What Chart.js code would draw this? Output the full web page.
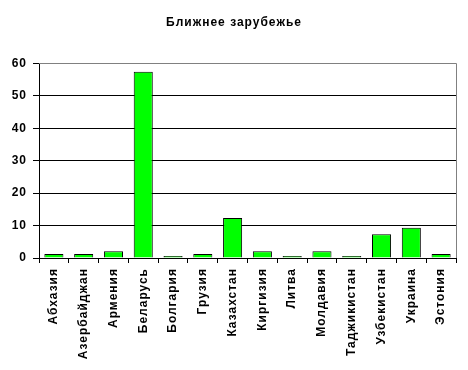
<!DOCTYPE html>
<html>
<head>
<meta charset="utf-8">
<script src="https://cdn.jsdelivr.net/npm/chart.js@4"></script>
<style>
    html, body { margin: 0; padding: 0; background: #fff; }
    #wrap { width: 468px; height: 370px; }
</style>
</head>
<body>
<div id="wrap"><canvas id="barChart" width="468" height="370"></canvas></div>
<script>
// data
var countries = ["Абхазия", "Азербайджан", "Армения", "Беларусь", "Болгария", "Грузия",
    "Казахстан", "Киргизия", "Литва", "Молдавия", "Таджикистан", "Узбекистан", "Украина", "Эстония"];
var shares = [1.2, 1.2, 2.1, 57.4, 0.6, 1.2, 12.3, 2.1, 0.6, 2.1, 0.6, 7.3, 9.3, 1.2];
var yTicks = [0, 10, 20, 30, 40, 50, 60];
var chartTitle = "Ближнее зарубежье";

var fontFamily = "'Liberation Sans', Arial, sans-serif";

// old-style spaced lettering, and gray frame on top and right of plot area
var frameLines = {
    id: 'frameLines',
    beforeDraw: function (chart) {
        chart.ctx.letterSpacing = "1px";
    },
    afterDraw: function (chart) {
        var ctx = chart.ctx;
        var a = chart.chartArea;
        ctx.save();
        ctx.strokeStyle = "#808080";
        ctx.lineWidth = 1;
        ctx.beginPath();
        ctx.moveTo(a.left, Math.round(a.top) + 0.5);
        ctx.lineTo(Math.round(a.right) + 0.5, Math.round(a.top) + 0.5);
        ctx.lineTo(Math.round(a.right) + 0.5, a.bottom);
        ctx.stroke();
        ctx.restore();
    }
};

var ctx = document.getElementById("barChart");
var myChart = new Chart(ctx, {
    type: 'bar',
    data: {
        labels: countries,
        datasets: [
            {
                data: shares,
                backgroundColor: "#00ff00",
                borderColor: "#000000",
                borderWidth: 1,
                categoryPercentage: 1.0,
                barPercentage: 0.64
            }
        ]
    },
    options: {
        responsive: false,
        animation: false,
        layout: {
            padding: { left: 12, right: 12, top: 0, bottom: 0 }
        },
        plugins: {
            legend: { display: false },
            tooltip: { enabled: false },
            title: {
                display: true,
                text: chartTitle,
                color: "#000",
                font: { family: fontFamily, size: 12, weight: 'bold' },
                padding: { top: 15, bottom: 34 }
            }
        },
        scales: {
            x: {
                grid: {
                    offset: true,
                    drawOnChartArea: false,
                    drawTicks: true,
                    tickLength: 5,
                    color: "#000"
                },
                border: { color: "#000", width: 1 },
                ticks: {
                    color: "#000",
                    font: { family: fontFamily, size: 12, weight: 'bold' },
                    minRotation: 90,
                    maxRotation: 90,
                    autoSkip: false,
                    padding: 5
                },
                afterFit: function (scale) {
                    scale.height = 112;
                }
            },
            y: {
                min: 0,
                max: 60,
                afterBuildTicks: function (scale) {
                    scale.ticks = yTicks.map(function (v) { return { value: v }; });
                },
                grid: {
                    color: "#000",
                    drawTicks: true,
                    tickLength: 6
                },
                border: { color: "#000", width: 1 },
                ticks: {
                    color: "#000",
                    font: { family: fontFamily, size: 12, weight: 'bold' },
                    padding: 6
                },
                afterFit: function (scale) {
                    scale.width = 27;
                }
            }
        }
    },
    plugins: [frameLines]
});
</script>
</body>
</html>
